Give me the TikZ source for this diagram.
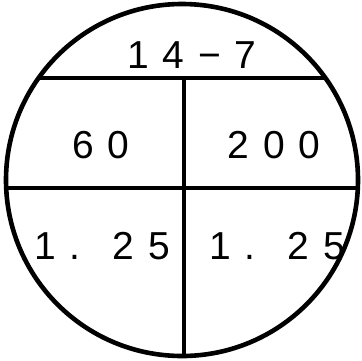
\documentclass[tikz,border=0pt]{standalone}
\usepackage{fontspec}
\setmainfont{Liberation Sans}
\newfontfamily\spacedfont[LetterSpace=35]{Liberation Sans}
\usetikzlibrary{positioning}

\begin{document}
\begin{tikzpicture}[
    x=1pt, y=-1pt,
    rim/.style={line width=4.6pt},
    divider/.style={line width=4.2pt},
    label/.style={font=\spacedfont\fontsize{39}{42}\selectfont, inner sep=0pt, anchor=center}
]
\useasboundingbox (0,0) rectangle (362,360);

% Outline
\coordinate (centre) at (182,180);

% Dividers, cut by the circle
\begin{scope}
\clip (centre) circle (176pt);
\draw[divider] (0,78) -- (362,78);
\draw[divider] (0,188) -- (362,188);
\draw[divider] (184,78) -- (184,360);
\end{scope}
\draw[rim] (centre) circle (176pt);

% Labels
\node[label] (title) at (192,55) {14−7};
\node[label] (upleft) at (101,145) {60};
\node[label] (upright) at (274,145) {200};
\node[label] (lowleft) at (102,246) {1. 25};
\node[label] (lowright) at (277,246) {1. 25};

\end{tikzpicture}
\end{document}
